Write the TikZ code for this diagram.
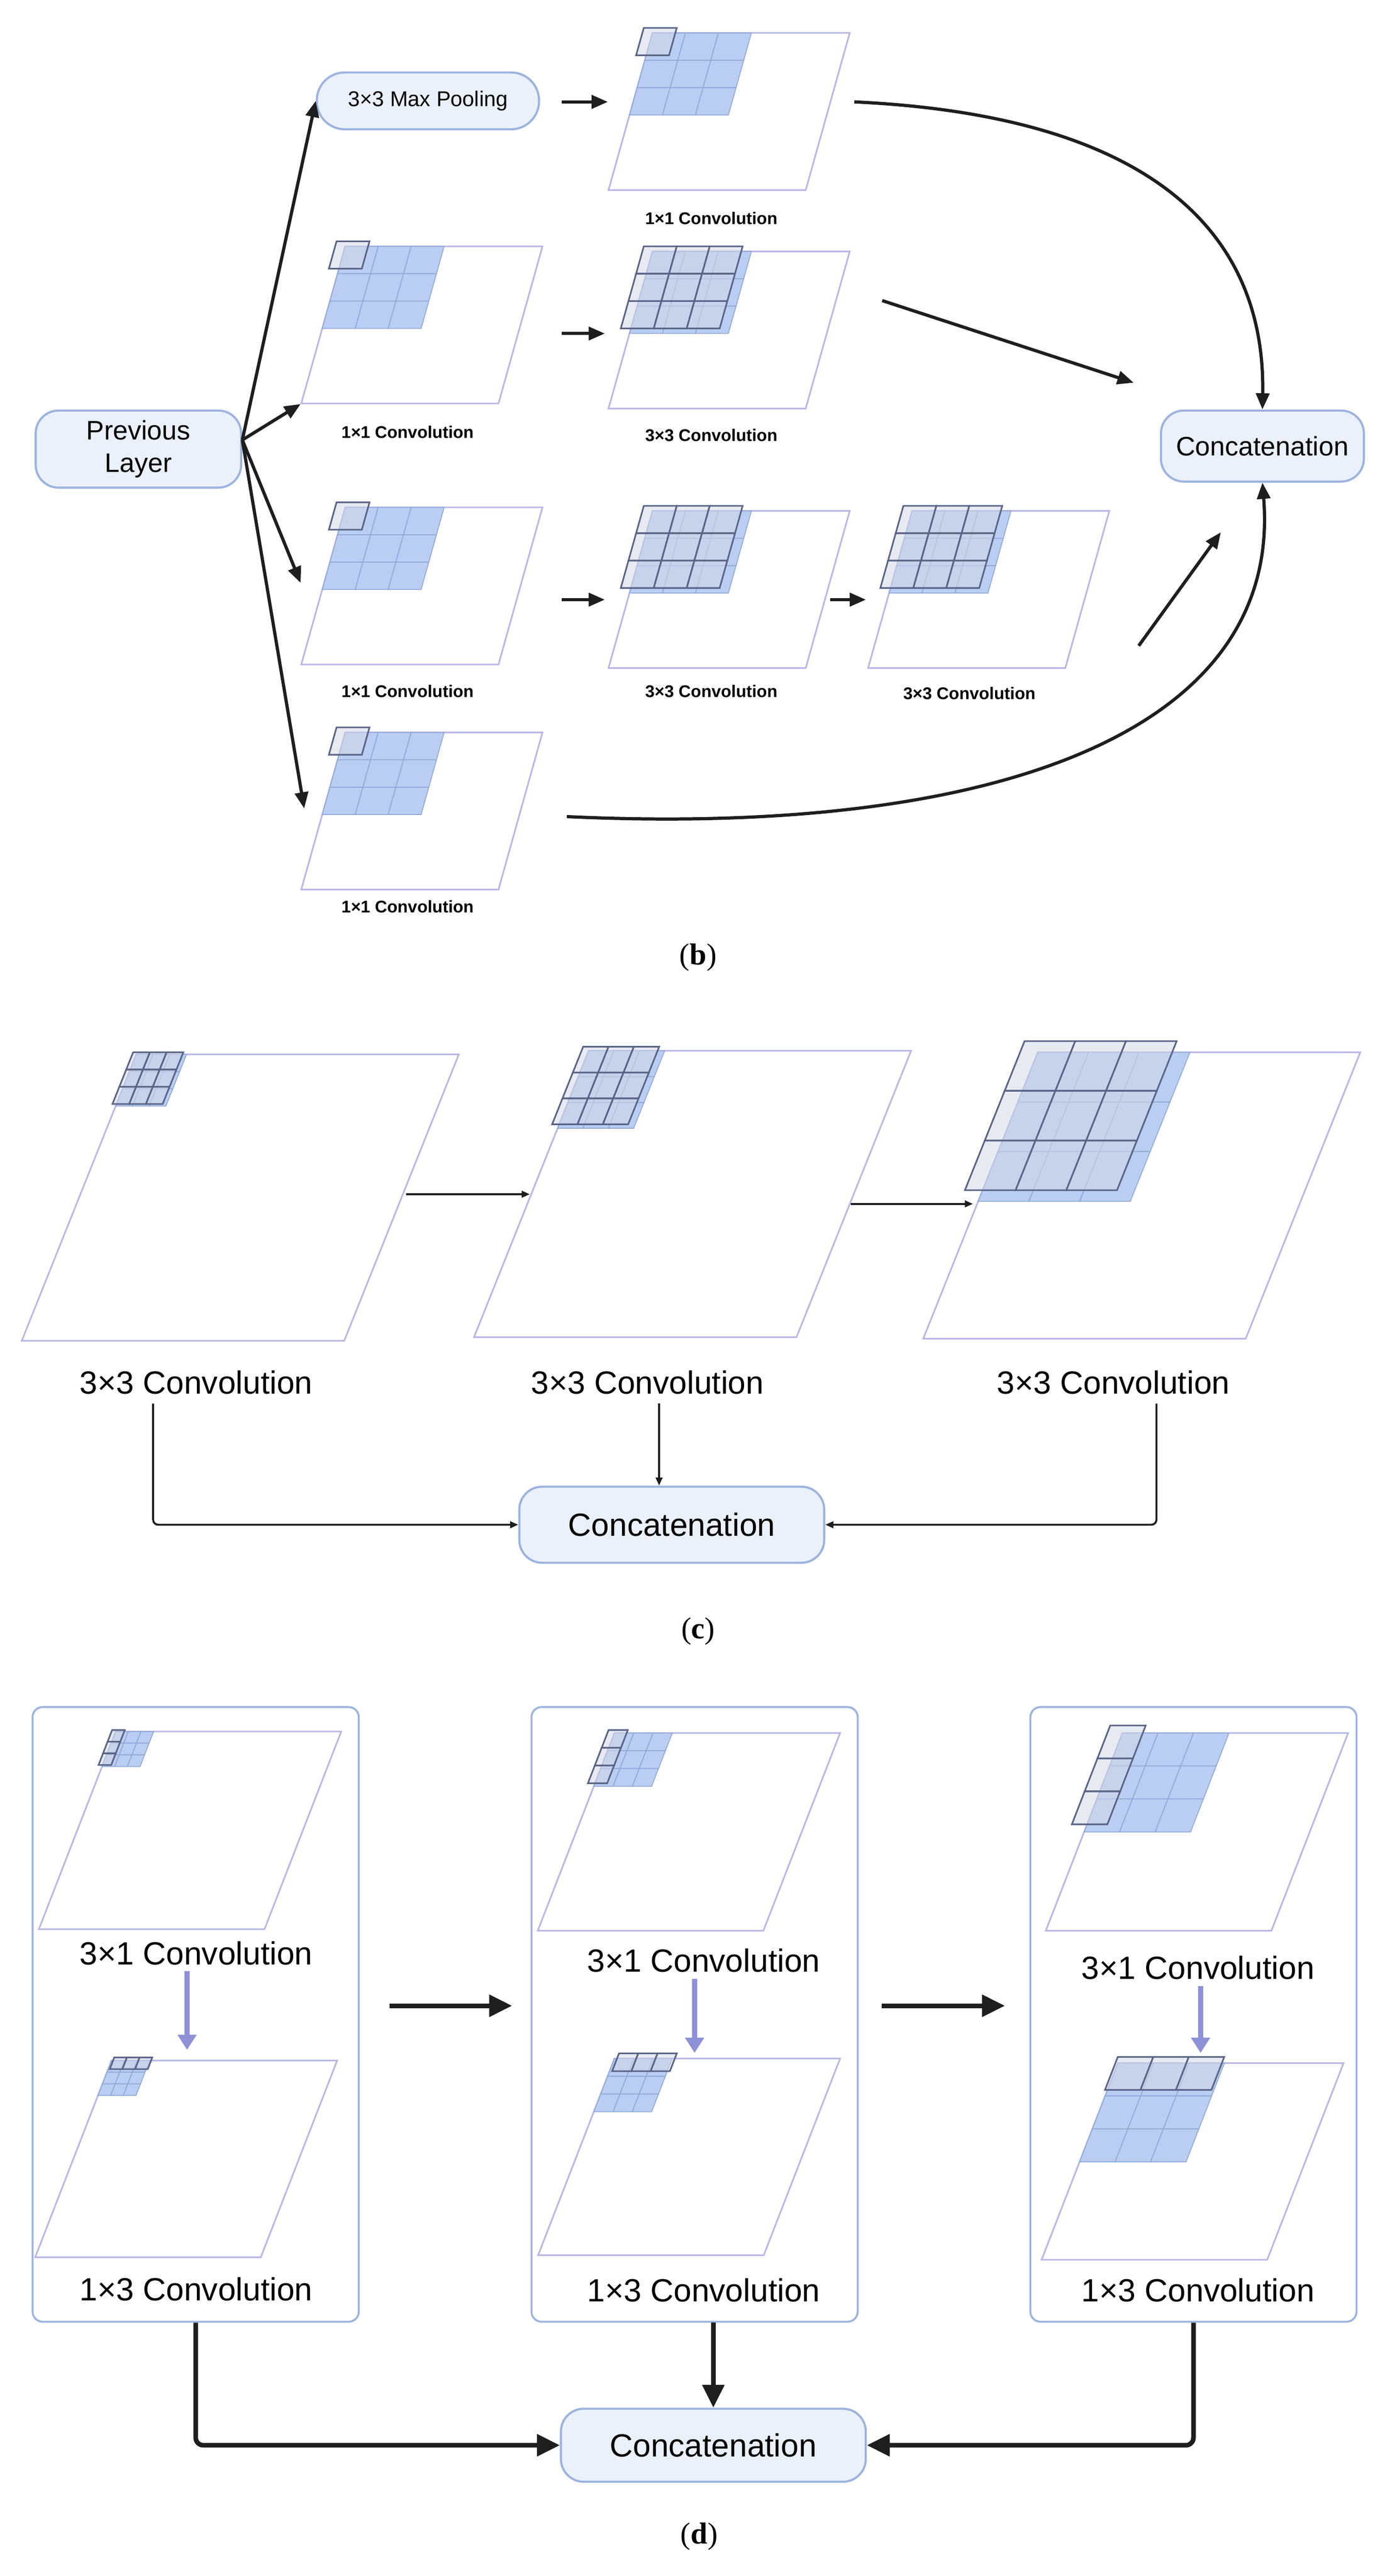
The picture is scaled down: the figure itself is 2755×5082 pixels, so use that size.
\documentclass[tikz,border=0pt]{standalone}
\usepackage{fontspec}
\setmainfont{Liberation Sans}
\newfontfamily\capfont{Liberation Serif}
\usetikzlibrary{arrows.meta}
\definecolor{nodefill}{HTML}{EAF1FB}
\definecolor{nodeline}{HTML}{9DB3DF}
\definecolor{parline}{HTML}{B9B6E8}
\definecolor{cellblue}{HTML}{B9CEF2}
\definecolor{cellline}{HTML}{93A9D8}
\definecolor{greyfill}{HTML}{D3D8E6}
\definecolor{greyline}{HTML}{5A6487}
\definecolor{purp}{HTML}{8E90D8}
\definecolor{ink}{HTML}{1E1E1E}
\newcommand{\bgrid}[2]{\foreach \i in {0,1,2}{\foreach \j in {0,1,2}{\draw[cellb] (\i*#1,\j*#2) rectangle ++(#1,#2);}}}
\newcommand{\ggrid}[6]{\foreach \i in {1,...,#5}{\foreach \j in {1,...,#6}{\draw[cellg] ({#1+(\i-1)*#3},{#2+(\j-1)*#4}) rectangle ++(#3,#4);}}}
\begin{document}
\begin{tikzpicture}[x=0.01cm,y=-0.01cm,
  box/.style={draw=nodeline,fill=nodefill,line width=1.2pt,rounded corners=0.45cm,align=center,inner sep=0pt},
  par/.style={draw=parline,line width=0.9pt},
  cellb/.style={draw=cellline,fill=cellblue,line width=0.5pt},
  cellg/.style={draw=greyline,fill=greyfill,fill opacity=0.55,line width=0.9pt},
  blab/.style={font=\bfseries\fontsize{9.5}{11}\selectfont},
  lab/.style={font=\fontsize{18}{21}\selectfont},
  captxt/.style={font=\capfont\fontsize{17}{20}\selectfont},
  arb/.style={draw=ink,line width=1.8pt,-{Triangle[length=0.32cm,width=0.26cm]}},
  arc/.style={draw=ink,line width=1.1pt,-{Triangle[length=0.16cm,width=0.13cm]}},
  ard/.style={draw=ink,line width=2.6pt,-{Triangle[length=0.45cm,width=0.42cm]}},
  arp/.style={draw=purp,line width=3pt,-{Triangle[length=0.3cm,width=0.36cm]}}]
\useasboundingbox (0,0) rectangle (2755,5082);
% ================= (b) =================
\foreach \X/\Y/\g in {1287/65/1,681/486/1,1287/496/3,681/1001/1,1287/1008/3,1799/1008/3,681/1445/1}{
  \begin{scope}[shift={(\X,\Y)},xslant=0.28]
    \draw[par] (0,0) rectangle (389,310);
    \bgrid{65}{54}
    \ggrid{-20}{-10}{65}{54}{\g}{\g}
  \end{scope}}
\node[box,minimum width=4.05cm,minimum height=1.52cm,font=\fontsize{15}{18}\selectfont] (prev) at (273,886) {Previous\\Layer};
\node[box,rounded corners=0.55cm,minimum width=4.38cm,minimum height=1.12cm,font=\fontsize{12}{14}\selectfont] (mp) at (844,199) {3×3 Max Pooling};
\node[box,minimum width=4.0cm,minimum height=1.4cm,font=\fontsize{15}{18}\selectfont] (cb) at (2490,880) {Concatenation};
\node[blab] (lb1) at (1403,431) {1×1 Convolution};
\node[blab] (lb2) at (804,852) {1×1 Convolution};
\node[blab] (lb3) at (1403,859) {3×3 Convolution};
\node[blab] (lb4) at (804,1364) {1×1 Convolution};
\node[blab] (lb5) at (1403,1364) {3×3 Convolution};
\node[blab] (lb6) at (1912,1368) {3×3 Convolution};
\node[blab] (lb7) at (804,1789) {1×1 Convolution};
\coordinate (s) at (478,868);
\coordinate (e2) at (593,797);
\coordinate (e3) at (593,1150);
\coordinate (e4) at (600,1595);
\draw[arb] (s) -- (mp.west);
\draw[arb] (s) -- (e2);
\draw[arb] (s) -- (e3);
\draw[arb] (s) -- (e4);
\coordinate (a1) at (1108,201); \coordinate (a1e) at (1199,201);
\coordinate (a2) at (1108,658); \coordinate (a2e) at (1193,658);
\coordinate (a3) at (1108,1183); \coordinate (a3e) at (1193,1183);
\coordinate (a4) at (1637,1183); \coordinate (a4e) at (1708,1183);
\foreach \p in {1,2,3,4}{\draw[arb] (a\p) -- (a\p e);}
\coordinate (c1) at (1685,201);
\draw[arb] (c1) .. controls (2300,230) and (2496,480) .. (cb.north);
\coordinate (c2) at (1740,593); \coordinate (c2e) at (2236,755);
\draw[arb] (c2) -- (c2e);
\coordinate (c3) at (2246,1274); \coordinate (c3e) at (2408,1050);
\draw[arb] (c3) -- (c3e);
\coordinate (c4) at (1118,1611);
\draw[arb] (c4) .. controls (1950,1650) and (2530,1450) .. (cb.south);
\node[captxt] (capb) at (1377,1889) {(\textbf{b})};
% ================= (c) =================
\foreach \X/\Y/\cw/\ch/\dx/\dy in {269/2080/33/34/-8/-4,1161/2073/50/51/-14/-8,2047/2076/100/98/-35/-22}{
  \begin{scope}[shift={(\X,\Y)},xslant=0.40]
    \draw[par] (0,0) rectangle (636,565);
    \bgrid{\cw}{\ch}
    \ggrid{\dx}{\dy}{\cw}{\ch}{3}{3}
  \end{scope}}
\node[lab] (lc1) at (387,2727) {3×3 Convolution};
\node[lab] (lc2) at (1277,2727) {3×3 Convolution};
\node[lab] (lc3) at (2196,2727) {3×3 Convolution};
\node[box,minimum width=6.01cm,minimum height=1.5cm,font=\fontsize{18}{21}\selectfont] (cc) at (1325,3008) {Concatenation};
\coordinate (p1) at (801,2356); \coordinate (p1e) at (1045,2356);
\coordinate (p2) at (1678,2375); \coordinate (p2e) at (1919,2375);
\draw[arc] (p1) -- (p1e);
\draw[arc] (p2) -- (p2e);
\draw[arc,rounded corners=0.1cm] (302,2769) |- (cc.west);
\draw[arc] (1300,2769) -- (cc.north -| 1300,0);
\draw[arc,rounded corners=0.1cm] (2281,2769) |- (cc.east);
\node[captxt] (capc) at (1377,3218) {(\textbf{c})};
% ================= (d) =================
\node[draw=nodeline,line width=1.1pt,rounded corners=0.2cm,minimum width=6.43cm,minimum height=12.12cm] (bx1) at (386,3974) {};
\node[draw=nodeline,line width=1.1pt,rounded corners=0.2cm,minimum width=6.43cm,minimum height=12.12cm] (bx2) at (1370,3974) {};
\node[draw=nodeline,line width=1.1pt,rounded corners=0.2cm,minimum width=6.43cm,minimum height=12.12cm] (bx3) at (2354,3974) {};
\foreach \X/\Y/\cw/\ch/\dx/\dy in {228/3416/25/23/-8/-3,1212/3419/38/35/-14/-6,2214/3419/70/65/-30/-15}{
  \begin{scope}[shift={(\X,\Y)},xslant=0.388]
    \draw[par] (0,0) rectangle (445,390);
    \bgrid{\cw}{\ch}
    \ggrid{\dx}{\dy}{\cw}{\ch}{1}{3}
  \end{scope}}
\foreach \X/\Y/\cw/\ch/\dx/\dy in {220/4065/25/23/3/-6,1212/4061/38/35/5/-10,2205/4070/70/65/-5/-12}{
  \begin{scope}[shift={(\X,\Y)},xslant=0.388]
    \draw[par] (0,0) rectangle (445,388);
    \bgrid{\cw}{\ch}
    \ggrid{\dx}{\dy}{\cw}{\ch}{3}{1}
  \end{scope}}
\node[lab] (ld1) at (387,3853) {3×1 Convolution};
\node[lab] (ld2) at (1388,3868) {3×1 Convolution};
\node[lab] (ld3) at (2363,3882) {3×1 Convolution};
\node[lab] (ld4) at (387,4516) {1×3 Convolution};
\node[lab] (ld5) at (1388,4518) {1×3 Convolution};
\node[lab] (ld6) at (2363,4518) {1×3 Convolution};
\draw[arp] (ld1.south -| 369,0) -- (369,4044);
\draw[arp] (ld2.south -| 1370,0) -- (1370,4050);
\draw[arp] (ld3.south -| 2368,0) -- (2368,4050);
\coordinate (q1) at (768,3957); \coordinate (q1e) at (1010,3957);
\coordinate (q2) at (1739,3957); \coordinate (q2e) at (1982,3957);
\draw[ard] (q1) -- (q1e);
\draw[ard] (q2) -- (q2e);
\node[box,minimum width=6.01cm,minimum height=1.44cm,font=\fontsize{18}{21}\selectfont] (cd) at (1407,4824) {Concatenation};
\draw[ard,rounded corners=0.15cm] (bx1.south) |- (cd.west);
\draw[ard] (bx2.south -| cd.north) -- (cd.north);
\draw[ard,rounded corners=0.15cm] (bx3.south) |- (cd.east);
\node[captxt] (capd) at (1379,5004) {(\textbf{d})};
\end{tikzpicture}
\end{document}
